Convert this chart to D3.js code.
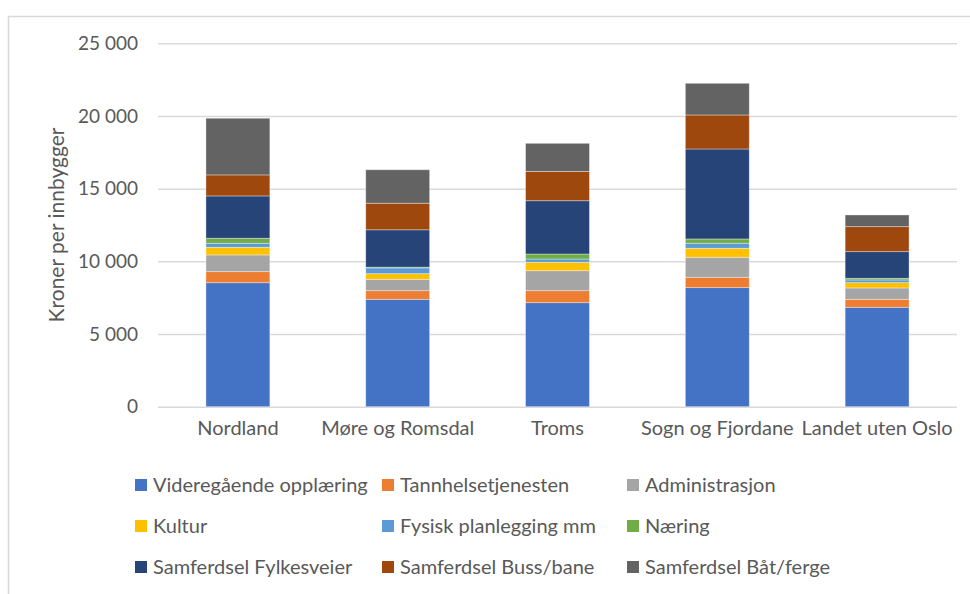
<!DOCTYPE html>
<html>
<head>
<meta charset="utf-8">
<script src="https://cdn.jsdelivr.net/npm/d3@7"></script>
<style>
  body { margin: 0; background: #fff; }
  svg { font-family: Lato, "Open Sans", sans-serif; }
</style>
</head>
<body>
<svg id="chart" width="970" height="594"></svg>
<script>
// data
var fylker = ["Nordland", "Møre og Romsdal", "Troms", "Sogn og Fjordane", "Landet uten Oslo"];
var seriesNames = ["Videregående opplæring", "Tannhelsetjenesten", "Administrasjon", "Kultur",
  "Fysisk planlegging mm", "Næring", "Samferdsel Fylkesveier", "Samferdsel Buss/bane", "Samferdsel Båt/ferge"];
var seriesColors = ["#4472c4", "#ed7d31", "#a5a5a5", "#ffc000", "#5b9bd5", "#70ad47", "#264478", "#9e480e", "#636363"];

var videregaende = [8530, 7390, 7155, 8190, 6840];
var tannhelse = [760, 590, 825, 715, 550];
var administrasjon = [1150, 785, 1375, 1375, 780];
var kultur = [530, 385, 580, 620, 365];
var fysiskPlan = [275, 400, 225, 345, 185];
var naering = [345, 50, 345, 295, 115];
var fylkesveier = [2910, 2570, 3665, 6190, 1830];
var bussBane = [1445, 1830, 2020, 2340, 1720];
var batFerge = [3900, 2300, 1930, 2180, 805];
var yTicks = [0, 5000, 10000, 15000, 20000, 25000];

var allSeries = [videregaende, tannhelse, administrasjon, kultur, fysiskPlan, naering, fylkesveier, bussBane, batFerge];

var rows = fylker.map(function(f, i) {
  var r = { fylke: f };
  seriesNames.forEach(function(s, j) { r[s] = allSeries[j][i]; });
  return r;
});

var svg = d3.select("#chart");
var plotLeft = 158, plotRight = 957, plotTop = 43.3, plotBottom = 406.7;
var textColor = "#595959";

// border of chart area
svg.append("path")
  .attr("d", "M8.5,594 V16.5 H970")
  .attr("fill", "none")
  .attr("stroke", "#d9d9d9")
  .attr("stroke-width", 1.5);

var x = d3.scaleBand().domain(fylker).range([plotLeft, plotRight]).paddingInner(0.6).paddingOuter(0.3);
var y = d3.scaleLinear().domain([0, 25000]).range([plotBottom, plotTop]);

// grid lines + tick labels
var yAxis = d3.axisLeft(y).tickValues(yTicks).tickSize(-(plotRight - plotLeft)).tickPadding(20)
  .tickFormat(function(d) { return d3.format(",")(d).replace(",", " "); });
var gy = svg.append("g").attr("transform", "translate(" + plotLeft + ",0)").call(yAxis);
gy.select(".domain").remove();
gy.selectAll(".tick line").attr("stroke", "#d9d9d9").attr("stroke-width", 1.5);
gy.selectAll(".tick text").attr("fill", textColor).attr("font-size", 19).attr("font-family", "Lato");

var stack = d3.stack().keys(seriesNames);
var layers = stack(rows);

svg.append("g").selectAll("g")
  .data(layers)
  .enter().append("g")
  .attr("fill", function(d, i) { return seriesColors[i]; })
  .selectAll("rect")
  .data(function(d) { return d; })
  .enter().append("rect")
  .attr("x", function(d) { return x(d.data.fylke); })
  .attr("width", x.bandwidth())
  .attr("y", function(d) { return y(d[1]); })
  .attr("height", function(d) { return y(d[0]) - y(d[1]); })
  .attr("stroke", "rgba(255,255,255,0.45)")
  .attr("stroke-width", 0.8);

// category labels
var xAxis = d3.axisBottom(x).tickSize(0).tickPadding(14);
var gx = svg.append("g").attr("transform", "translate(0," + plotBottom + ")").call(xAxis);
gx.select(".domain").remove();
gx.selectAll(".tick text").attr("fill", textColor).attr("font-size", 20).attr("font-family", "Lato");

// y title
svg.append("text")
  .attr("transform", "translate(64,225) rotate(-90)")
  .attr("text-anchor", "middle")
  .attr("fill", textColor)
  .attr("font-size", 21)
  .text("Kroner per innbygger");

// legend
var colX = [135, 382, 627];
var rowY = [485, 526, 567];
var legend = svg.append("g").selectAll("g")
  .data(seriesNames)
  .enter().append("g")
  .attr("transform", function(d, i) { return "translate(" + colX[i % 3] + "," + rowY[Math.floor(i / 3)] + ")"; });
legend.append("rect")
  .attr("x", 0).attr("y", -6).attr("width", 12).attr("height", 12)
  .attr("fill", function(d, i) { return seriesColors[i]; });
legend.append("text")
  .attr("x", 18).attr("y", 0).attr("dy", "0.35em")
  .attr("fill", textColor).attr("font-size", 20)
  .text(function(d) { return d; });
</script>
</body>
</html>
